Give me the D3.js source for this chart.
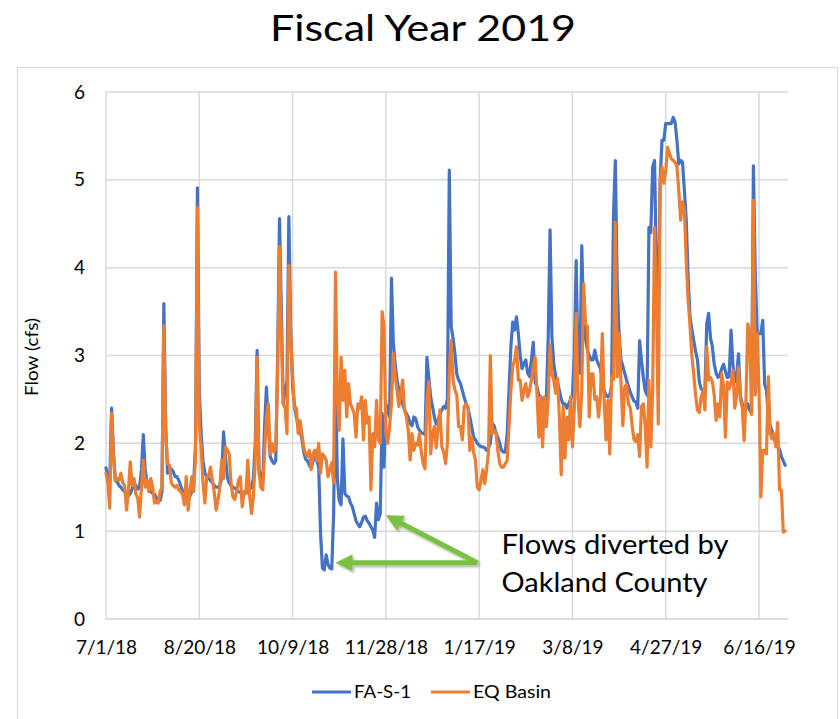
<!DOCTYPE html>
<html><head><meta charset="utf-8">
<script src="https://cdn.jsdelivr.net/npm/d3@7"></script>
<style>
body{margin:0;background:#fff}
svg{display:block}
text{font-family:Lato,"Open Sans",sans-serif;fill:#000}
</style>
</head><body>
<svg id="chart" width="840" height="719"></svg>
<script>
const chartTitle = "Fiscal Year 2019";
const yAxisTitle = "Flow (cfs)";
const startDate = "7/1/18";
const endDate = "7/1/19";
const seriesNames = ["FA-S-1", "EQ Basin"];
const seriesColors = ["#4472C4", "#ED7D31"];
const xTickLabels = ["7/1/18","8/20/18","10/9/18","11/28/18","1/17/19","3/8/19","4/27/19","6/16/19"];
const yTickValues = [0,1,2,3,4,5,6];

// Daily flows, 7/1/18 .. 6/30/19
const faS1 = [
1.72,1.60,1.55,2.40,1.90,1.58,1.56,1.52,1.50,1.47,
1.45,1.42,1.40,1.43,1.48,1.55,1.52,1.48,1.50,1.70,
2.10,1.70,1.55,1.48,1.45,1.43,1.42,1.38,1.35,1.35,
1.45,3.59,2.20,1.66,1.70,1.71,1.68,1.62,1.62,1.58,
1.52,1.46,1.42,1.40,1.38,1.40,1.45,1.55,2.00,4.91,
2.60,2.11,1.80,1.66,1.62,1.60,1.58,1.55,1.52,1.50,
1.50,1.52,1.60,2.13,1.85,1.62,1.55,1.52,1.50,1.49,
1.47,1.45,1.44,1.43,1.42,1.43,1.45,1.48,1.50,1.60,
2.00,3.06,1.70,1.62,1.55,2.20,2.64,2.20,1.85,1.80,
1.77,1.80,3.00,4.56,3.50,2.45,2.60,2.70,4.58,3.30,
2.64,2.45,2.30,2.20,2.15,2.05,1.90,1.82,1.80,1.75,
1.72,1.80,1.92,1.80,1.73,0.97,0.58,0.56,0.73,0.62,
0.58,0.57,1.20,2.80,1.60,1.35,1.30,2.05,1.43,1.40,
1.39,1.32,1.28,1.20,1.12,1.08,1.05,1.10,1.16,1.17,
1.12,1.09,1.05,1.01,0.93,1.32,1.13,1.20,2.34,1.73,
2.45,2.38,2.30,3.88,3.14,2.90,2.72,2.60,2.50,2.45,
2.38,2.34,2.30,2.23,2.20,2.30,2.28,2.19,2.15,2.12,
2.11,2.10,2.98,2.75,2.53,2.42,2.30,2.22,2.25,2.34,
2.38,2.42,2.40,2.50,5.11,3.33,3.20,3.02,2.79,2.72,
2.68,2.60,2.52,2.45,2.40,2.30,2.19,2.07,2.04,2.00,
1.98,1.96,1.96,1.95,1.92,1.95,2.00,2.23,2.20,2.12,
2.07,2.00,1.92,1.90,1.90,2.10,2.60,3.10,3.38,3.29,
3.44,3.25,3.00,2.85,2.91,2.95,2.80,2.76,2.95,3.15,
2.70,2.64,2.55,2.53,2.49,2.50,2.49,3.20,4.43,3.21,
2.91,2.76,2.70,2.60,2.50,2.45,2.45,2.40,2.45,2.50,
2.55,3.00,4.08,2.90,2.80,4.25,3.44,3.20,3.06,3.00,
2.95,2.95,3.06,2.95,2.90,2.85,2.70,2.60,2.55,2.53,
2.55,2.65,4.60,5.22,3.80,3.25,2.95,2.88,2.80,2.72,
2.65,2.58,2.53,2.48,2.47,2.40,3.17,2.95,2.75,2.60,
2.55,4.46,4.40,5.15,5.22,4.00,3.29,5.00,5.45,5.45,
5.64,5.64,5.64,5.64,5.71,5.66,5.45,5.18,5.22,5.20,
4.88,4.54,3.90,3.44,3.30,3.17,3.05,2.95,2.70,2.62,
2.60,2.60,3.36,3.48,3.20,3.10,2.90,2.80,2.75,2.78,
2.85,2.90,2.82,2.75,2.76,3.29,2.90,2.70,2.75,3.02,
2.55,2.45,2.40,2.40,2.45,2.38,2.34,5.16,3.93,3.25,
3.25,3.25,3.40,2.68,2.60,2.30,2.20,2.14,2.07,2.00,
1.97,1.93,1.85,1.80,1.75
];

const eqBasin = [
1.66,1.55,1.26,2.34,1.85,1.58,1.60,1.58,1.66,1.55,
1.52,1.24,1.45,1.79,1.52,1.60,1.42,1.38,1.16,1.50,
1.81,1.50,1.58,1.45,1.60,1.50,1.32,1.34,1.32,1.45,
1.50,3.34,2.10,1.77,1.75,1.55,1.52,1.50,1.52,1.47,
1.45,1.42,1.30,1.62,1.24,1.45,1.62,1.45,1.85,4.69,
2.20,1.95,1.55,1.32,1.62,1.63,1.73,1.58,1.45,1.24,
1.35,1.50,1.81,1.60,1.96,1.92,1.88,1.55,1.39,1.36,
1.45,1.58,1.62,1.28,1.45,1.43,1.81,1.40,1.20,1.40,
1.80,2.98,1.66,1.50,1.47,1.90,2.30,2.45,1.88,2.00,
1.90,1.95,2.80,4.24,3.20,2.45,2.40,2.11,4.03,3.20,
2.80,2.38,2.40,2.11,2.26,2.11,1.95,1.88,1.85,1.92,
1.70,1.88,1.92,1.80,2.00,1.66,1.88,1.85,1.81,1.62,
1.70,1.78,1.55,3.95,2.49,2.15,2.98,2.49,2.83,2.30,
2.68,2.45,2.40,2.34,2.07,2.45,2.40,2.53,2.04,2.49,
2.23,2.30,1.47,2.11,1.96,2.49,2.04,2.00,3.50,3.33,
2.11,2.00,2.20,2.45,3.02,2.76,2.60,2.42,2.57,2.72,
2.38,2.30,2.15,1.81,2.11,1.92,2.00,1.98,2.11,1.90,
1.77,1.71,2.49,2.70,1.88,2.10,2.19,1.95,2.19,2.38,
1.96,1.90,1.77,2.00,2.80,3.17,2.72,2.61,2.55,2.19,
2.19,2.04,2.42,2.45,2.42,1.92,2.07,1.90,1.81,1.50,
1.47,1.58,1.70,1.54,1.70,1.90,3.00,2.11,2.15,2.12,
1.92,1.77,1.73,1.73,1.77,1.80,2.19,2.60,2.87,2.95,
3.10,2.72,2.72,2.49,2.60,2.68,2.53,2.60,2.72,2.87,
2.98,2.57,2.07,2.53,1.96,2.53,2.19,2.50,3.12,2.79,
2.72,2.57,2.74,2.30,1.64,2.42,1.83,2.30,2.04,2.53,
1.96,2.40,3.48,2.50,2.19,2.60,3.82,3.36,3.33,2.30,
2.79,2.79,2.50,2.53,2.30,2.53,3.25,2.49,2.04,2.49,
1.88,2.76,2.73,4.52,2.76,3.25,2.70,2.20,2.64,2.67,
2.45,2.40,2.20,2.04,2.02,2.10,1.85,2.42,2.45,2.20,
1.73,2.72,1.96,2.60,4.46,3.63,2.22,5.00,5.15,4.96,
5.10,5.37,5.30,5.24,5.22,5.20,5.15,4.88,4.54,4.75,
4.65,4.08,3.63,3.35,3.00,2.79,2.55,2.38,2.35,2.53,
2.60,2.38,3.10,2.72,2.75,2.70,2.55,2.26,2.45,2.30,
2.79,2.65,2.07,2.70,2.62,2.70,2.83,2.40,2.55,2.87,
2.50,2.41,2.03,2.50,3.36,3.25,2.33,4.77,2.55,3.25,
2.60,1.39,1.92,1.92,1.88,2.76,2.11,2.05,2.11,1.96,
2.24,1.47,1.47,0.99,1.00
];

// Annotation (in data units: date, flow)
const noteLines = ["Flows diverted by", "Oakland County"];
const noteAnchor = ["1/29/19", 0.74];
const arrowTail = ["1/16/19", 0.64];
const arrowTips = [["11/1/18", 0.64], ["11/28/18", 1.18]];

const parse = d3.timeParse("%m/%d/%y");
const svg = d3.select("#chart");

const plot = {left:106, right:787, top:92, bottom:619};
const x = d3.scaleTime().domain([parse(startDate), parse(endDate)]).range([plot.left, plot.right]);
const y = d3.scaleLinear().domain([0, 6]).range([plot.bottom, plot.top]);

// chart border
svg.append("rect").attr("x",17.5).attr("y",67.5).attr("width",820).attr("height",680)
  .attr("fill","none").attr("stroke","#d9d9d9").attr("stroke-width",1);

// title
svg.append("text").attr("x",423).attr("y",41).attr("text-anchor","middle")
  .style("font-size","37px").attr("textLength",306).attr("lengthAdjust","spacingAndGlyphs")
  .text(chartTitle);

const xTicks = xTickLabels.map(parse);

// gridlines
svg.append("g").selectAll("line").data(yTickValues.filter(v=>v>0)).join("line")
  .attr("x1",plot.left).attr("x2",plot.right+1)
  .attr("y1",d=>y(d)).attr("y2",d=>y(d))
  .attr("stroke","#d9d9d9").attr("stroke-width",1.5);
svg.append("g").selectAll("line").data(xTicks).join("line")
  .attr("x1",d=>x(d)).attr("x2",d=>x(d))
  .attr("y1",plot.top).attr("y2",plot.bottom)
  .attr("stroke","#d9d9d9").attr("stroke-width",1.5);

// x axis
const xAxis = svg.append("g").attr("transform",`translate(0,${plot.bottom})`)
  .call(d3.axisBottom(x).tickValues(xTicks).tickFormat((d,i)=>xTickLabels[i]).tickSize(0).tickPadding(22));
xAxis.select(".domain").attr("stroke","#d0d0d0").attr("stroke-width",1.5).attr("d",`M${plot.left},0H${plot.right+1}`);
xAxis.selectAll("text").style("font-size","19px").style("font-family","Lato, sans-serif").attr("fill","#000");

// y axis
const yAxis = svg.append("g").attr("transform",`translate(${plot.left},0)`)
  .call(d3.axisLeft(y).tickValues(yTickValues).tickFormat(d3.format("d")).tickSize(0).tickPadding(21));
yAxis.select(".domain").remove();
yAxis.selectAll("text").style("font-size","19px").style("font-family","Lato, sans-serif").attr("fill","#000");

// y axis title
svg.append("text").attr("transform","translate(38,357) rotate(-90)").attr("text-anchor","middle")
  .style("font-size","18px").attr("textLength",78).attr("lengthAdjust","spacingAndGlyphs").text(yAxisTitle);

// series
const dates = faS1.map((_,i)=>d3.timeDay.offset(parse(startDate), i));
const line = d3.line().x((d,i)=>x(dates[i])).y(d=>y(d));
[faS1, eqBasin].forEach((vals,k)=>{
  svg.append("path").datum(vals).attr("d",line)
    .attr("fill","none").attr("stroke",seriesColors[k]).attr("stroke-width",3.2)
    .attr("stroke-linejoin","round").attr("stroke-linecap","round");
});

// annotation arrows
const defs = svg.append("defs");
const f = defs.append("filter").attr("id","sh").attr("x","-20%").attr("y","-50%").attr("width","140%").attr("height","200%");
f.append("feDropShadow").attr("dx",1.5).attr("dy",2).attr("stdDeviation",1.2).attr("flood-color","#000").attr("flood-opacity",0.3);
const green = "#7AC143";
const ag = svg.append("g").attr("filter","url(#sh)");
const tx = x(parse(arrowTail[0])), ty = y(arrowTail[1]);
arrowTips.forEach(t=>{
  const px = x(parse(t[0])), py = y(t[1]);
  const dx = px-tx, dy = py-ty, L = Math.hypot(dx,dy), ux = dx/L, uy = dy/L;
  const head = 17, hw = 8.5;
  const bx = px-ux*head, by = py-uy*head;
  ag.append("line").attr("x1",tx).attr("y1",ty).attr("x2",bx+ux*2).attr("y2",by+uy*2)
    .attr("stroke",green).attr("stroke-width",5);
  ag.append("path").attr("d",`M${px},${py}L${bx-uy*hw},${by+ux*hw}L${bx+uy*hw},${by-ux*hw}Z`).attr("fill",green);
});

// annotation text
const nx = x(parse(noteAnchor[0])), ny = y(noteAnchor[1]);
const nt = svg.append("g");
nt.append("text").attr("x",nx).attr("y",ny).style("font-size","26px")
  .attr("textLength",227).attr("lengthAdjust","spacingAndGlyphs").text(noteLines[0]);
nt.append("text").attr("x",nx).attr("y",ny+38).style("font-size","26px")
  .attr("textLength",206).attr("lengthAdjust","spacingAndGlyphs").text(noteLines[1]);

// legend
const legendX = [312, 431], legendY = 692, legendW = [57, 78];
seriesNames.forEach((n,k)=>{
  svg.append("line").attr("x1",legendX[k]).attr("x2",legendX[k]+39).attr("y1",legendY).attr("y2",legendY)
    .attr("stroke",seriesColors[k]).attr("stroke-width",3.2);
  svg.append("text").attr("x",legendX[k]+42).attr("y",legendY+6).style("font-size","18px")
    .attr("textLength",legendW[k]).attr("lengthAdjust","spacingAndGlyphs").text(n);
});
</script>
</body></html>
